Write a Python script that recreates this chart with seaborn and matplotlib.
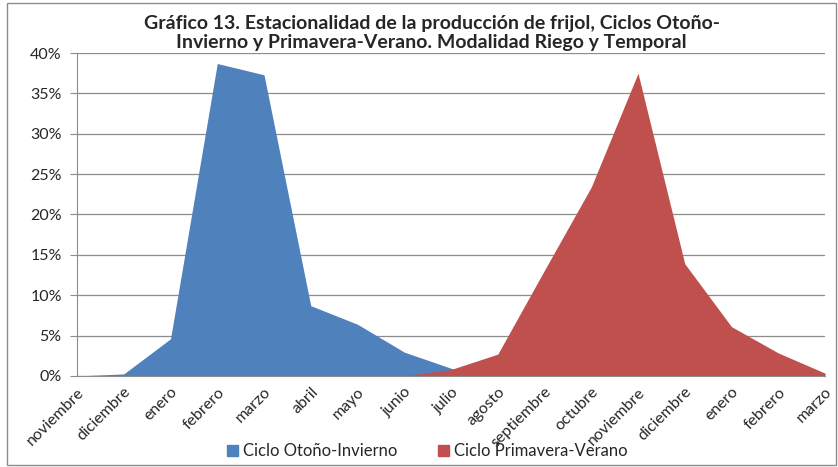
import pandas as pd
import matplotlib.pyplot as plt
import seaborn as sns
from matplotlib.patches import Rectangle, Patch
from matplotlib.ticker import PercentFormatter
from matplotlib.transforms import ScaledTranslation

meses = ['noviembre', 'diciembre', 'enero', 'febrero', 'marzo', 'abril', 'mayo',
         'junio', 'julio', 'agosto', 'septiembre', 'octubre', 'noviembre',
         'diciembre', 'enero', 'febrero', 'marzo']
otono_invierno = [0.0, 0.25, 4.6, 38.7, 37.3, 8.7, 6.4, 2.95, 0.95, 0.0, 0.0,
                  0.0, 0.0, 0.0, 0.0, 0.0, 0.0]
primavera_verano = [0.0, 0.0, 0.0, 0.0, 0.0, 0.0, 0.0, 0.0, 0.8, 2.7, 13.1,
                    23.4, 37.5, 13.9, 6.1, 2.85, 0.35]

data = pd.DataFrame({'pos': range(len(meses)), 'mes': meses,
                     'Ciclo Otoño-Invierno': otono_invierno,
                     'Ciclo Primavera-Verano': primavera_verano})

sns.set_style('white')
plt.rcParams['font.family'] = ['Lato', 'DejaVu Sans']

fig = plt.figure(figsize=(8.38, 4.67), dpi=100)
ax = fig.add_axes([0.0919, 0.195, 0.8926, 0.6915])

colores = {'Ciclo Otoño-Invierno': '#4F81BD', 'Ciclo Primavera-Verano': '#C0504D'}
for serie, color in colores.items():
    sns.lineplot(x='pos', y=serie, data=data, ax=ax, color=color, linewidth=0)
    ax.fill_between(data['pos'], data[serie], color=color, linewidth=0, zorder=2)

ax.set_xlim(0, len(meses) - 1)
ax.set_ylim(0, 40)
ax.set_yticks(range(0, 41, 5))
ax.yaxis.set_major_formatter(PercentFormatter(decimals=0))
ax.set_xticks(data['pos'])
ax.set_xticklabels(meses, rotation=45, ha='right', rotation_mode='anchor')
# llevar las etiquetas un poco a la izquierda, como en el original
desplaza = ScaledTranslation(-4 / 100, 0, fig.dpi_scale_trans)
for lab in ax.get_xticklabels():
    lab.set_transform(lab.get_transform() + desplaza)
ax.set_xlabel('')
ax.set_ylabel('')
ax.grid(axis='y', color='#8c8c8c', linewidth=0.9, zorder=0)
ax.set_axisbelow(True)
for lado in ['top', 'right']:
    ax.spines[lado].set_visible(False)
ax.spines['left'].set_color('#8c8c8c')
ax.spines['bottom'].set_color('#8c8c8c')
ax.tick_params(axis='y', left=True, length=5, color='#8c8c8c', labelsize=11.5, pad=6)
ax.tick_params(axis='x', bottom=False, labelsize=11.5, pad=3)

fig.text(0.515, 0.968, 'Gráfico 13. Estacionalidad de la producción de frijol, Ciclos Otoño-\n'
         'Invierno y Primavera-Verano. Modalidad Riego y Temporal',
         ha='center', va='top', fontsize=14, fontweight='bold', linespacing=1.15)

handles = [Patch(color=c, label=s) for s, c in colores.items()]
fig.legend(handles=handles, loc='lower center', bbox_to_anchor=(0.51, -0.015), ncol=2,
           frameon=False, fontsize=12, handlelength=0.65, handleheight=0.65,
           columnspacing=2.4, handletextpad=0.35)

fig.add_artist(Rectangle((0.008, 0.004), 0.99, 0.99, transform=fig.transFigure,
                         fill=False, edgecolor='#8c8c8c', linewidth=1))

plt.savefig('out.png', dpi=100)
